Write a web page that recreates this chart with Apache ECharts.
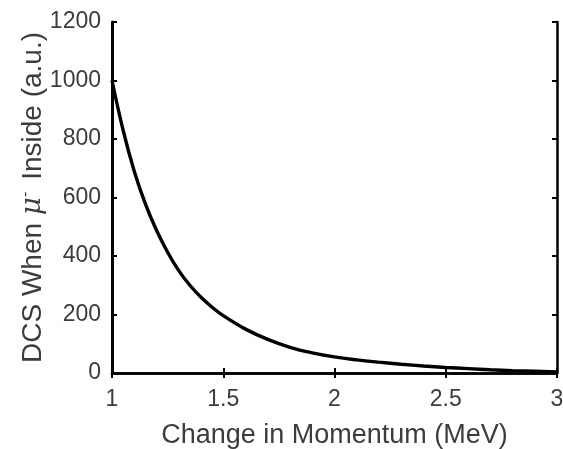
<!DOCTYPE html>
<html>
<head>
<meta charset="utf-8">
<script src="https://cdn.jsdelivr.net/npm/echarts@6/dist/echarts.min.js"></script>
<style>html,body{margin:0;padding:0;background:#fff;}#c{width:563px;height:449px;}</style>
</head>
<body>
<div id="c"></div>
<script>
var momentum = [1.00,1.05,1.10,1.15,1.20,1.25,1.30,1.35,1.40,1.45,1.50,1.60,1.70,1.80,1.90,2.00,2.10,2.20,2.30,2.40,2.50,2.60,2.70,2.80,2.90,3.00];
var dcs = [1000,830,690,578,488,413,350,300,259,225,196,150,115,88,69,55,45,37,30,24,19,15,11,8,6,4];
var xTicks = [1, 1.5, 2, 2.5, 3];
var yTicks = [0, 200, 400, 600, 800, 1000, 1200];

var points = momentum.map(function (m, i) { return [m, dcs[i]]; });
var font = 'Liberation Sans, Arial, sans-serif';
var labelColor = '#3c3c3c';
function ticks() { return {show: true, inside: true, length: 5, lineStyle: {color: '#000', width: 2}}; }
function axLine(w) { return {show: true, lineStyle: {color: '#000', width: w}}; }
var chart = echarts.init(document.getElementById('c'), null, {renderer: 'canvas'});
chart.setOption({
  animation: false,
  backgroundColor: '#fff',
  grid: {left: 112, top: 22, right: 6, bottom: 76, containLabel: false, outerBoundsMode: 'none'},
  xAxis: [{
    type: 'value', min: xTicks[0], max: xTicks[xTicks.length - 1], interval: 0.5,
    position: 'bottom',
    axisLine: axLine(2.5),
    axisTick: ticks(),
    splitLine: {show: false},
    axisLabel: {color: labelColor, fontSize: 23, fontFamily: font, margin: 15,
      formatter: function (v) { return String(v); }},
    name: 'Change in Momentum (MeV)', nameLocation: 'middle', nameGap: 49, nameMoveOverlap: false,
    nameTextStyle: {color: labelColor, fontSize: 27, fontFamily: font}
  }, {
    type: 'value', min: xTicks[0], max: xTicks[xTicks.length - 1], interval: 0.5,
    position: 'top',
    axisLine: axLine(2.5),
    axisTick: ticks(),
    axisLabel: {show: false}, splitLine: {show: false}
  }],
  yAxis: [{
    type: 'value', min: yTicks[0], max: yTicks[yTicks.length - 1], interval: 200,
    position: 'left',
    axisLine: axLine(3),
    axisTick: ticks(),
    splitLine: {show: false},
    axisLabel: {color: labelColor, fontSize: 23, fontFamily: font, margin: 11,
      formatter: function (v) { return String(v); }},
    name: 'DCS When {i|μ}{s|-} Inside (a.u.)', nameLocation: 'middle', nameGap: 64, nameRotate: 90, nameMoveOverlap: false,
    nameTextStyle: {color: labelColor, fontSize: 28, fontFamily: font,
      rich: {
        i: {fontStyle: 'italic', fontFamily: 'DejaVu Serif, serif', fontSize: 28, color: labelColor},
        s: {fontSize: 16, color: labelColor, verticalAlign: 'top', padding: [0, 4, 14, 0]}
      }}
  }, {
    type: 'value', min: yTicks[0], max: yTicks[yTicks.length - 1], interval: 200,
    position: 'right',
    axisLine: axLine(2.5),
    axisTick: ticks(),
    axisLabel: {show: false}, splitLine: {show: false}
  }],
  series: [{
    type: 'line', data: points, smooth: 0.4, showSymbol: false,
    lineStyle: {color: '#000', width: 3.4}, z: 1
  }]
});
</script>
</body>
</html>
